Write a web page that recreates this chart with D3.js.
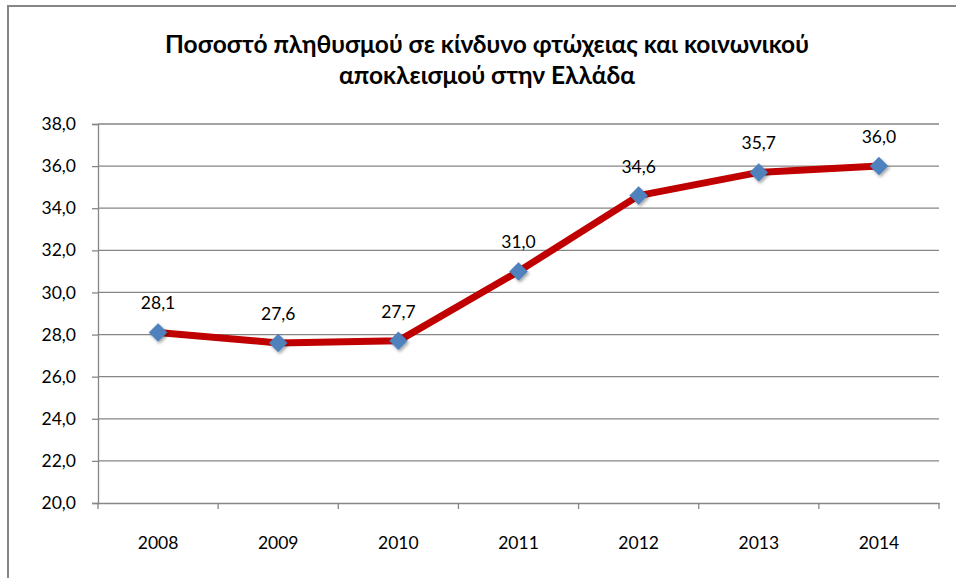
<!DOCTYPE html>
<html><head><meta charset="utf-8">
<script src="https://cdn.jsdelivr.net/npm/d3@7"></script>
<style>body{margin:0;background:#fff;}svg{display:block;}</style>
</head><body>
<script>
const years = ["2008","2009","2010","2011","2012","2013","2014"];
const values = [28.1, 27.6, 27.7, 31.0, 34.6, 35.7, 36.0];
const yTicks = [20,22,24,26,28,30,32,34,36,38];
const titleLines = ["Ποσοστό πληθυσμού σε κίνδυνο φτώχειας και κοινωνικού","αποκλεισμού στην Ελλάδα"];

const W=956,H=578;
const m={left:98,right:17,top:124,bottom:75};
const svg=d3.select("body").append("svg").attr("width",W).attr("height",H);
const font="Lato, 'Open Sans', sans-serif";

svg.append("rect").attr("x",8).attr("y",6).attr("width",960).attr("height",590)
  .attr("fill","#fff").attr("stroke","#868686").attr("stroke-width",2);

const x=d3.scaleBand().domain(years).range([m.left,W-m.right]);
const y=d3.scaleLinear().domain([20,38]).range([H-m.bottom,m.top]);

svg.append("g").selectAll("line").data(yTicks.filter(d=>d>20)).join("line")
  .attr("x1",m.left).attr("x2",W-m.right).attr("y1",d=>y(d)).attr("y2",d=>y(d))
  .attr("stroke","#868686").attr("stroke-width",1.3);

const yAxis=svg.append("g").attr("transform",`translate(${m.left},0)`)
  .call(d3.axisLeft(y).tickValues(yTicks).tickSize(6).tickPadding(16).tickFormat(d=>d3.format(".1f")(d).replace(".",",")));
yAxis.select(".domain").attr("stroke","#868686").attr("stroke-width",1.3);
yAxis.selectAll(".tick line").attr("stroke","#868686").attr("stroke-width",1.3);
yAxis.selectAll("text").attr("font-family",font).attr("font-size",17.5).attr("fill","#000");

const xAxis=svg.append("g").attr("transform",`translate(0,${H-m.bottom})`)
  .call(d3.axisBottom(x).tickSize(0).tickPadding(34));
xAxis.select(".domain").attr("stroke","#868686").attr("stroke-width",1.3);
xAxis.selectAll("text").attr("font-family",font).attr("font-size",17.5).attr("fill","#000");
svg.append("g").selectAll("line").data(years.concat(["end"])).join("line")
  .attr("x1",(d,i)=>i<years.length?x(d):x(years[years.length-1])+x.bandwidth())
  .attr("x2",(d,i)=>i<years.length?x(d):x(years[years.length-1])+x.bandwidth())
  .attr("y1",H-m.bottom).attr("y2",H-m.bottom+6)
  .attr("stroke","#868686").attr("stroke-width",1.3);

const cx=d=>x(d)+x.bandwidth()/2;
const pts=years.map((d,i)=>({year:d,v:values[i]}));
svg.append("path").datum(pts)
  .attr("d",d3.line().x(d=>cx(d.year)).y(d=>y(d.v)))
  .attr("fill","none").attr("stroke","#C00000").attr("stroke-width",7).attr("stroke-linejoin","round");

const defs=svg.append("defs");
const f=defs.append("filter").attr("id","sh").attr("x","-50%").attr("y","-50%").attr("width","200%").attr("height","200%");
f.append("feDropShadow").attr("dx",1.5).attr("dy",2).attr("stdDeviation",1.5).attr("flood-color","#000").attr("flood-opacity",0.35);

svg.append("g").selectAll("path").data(pts).join("path")
  .attr("d","M0,-9L9,0L0,9L-9,0Z")
  .attr("transform",d=>`translate(${cx(d.year)},${y(d.v)})`)
  .attr("fill","#4F81BD").attr("stroke","#4A7EBB").attr("stroke-width",0.5).attr("filter","url(#sh)");

svg.append("g").selectAll("text").data(pts).join("text")
  .attr("x",d=>cx(d.year)).attr("y",d=>y(d.v)-23)
  .attr("text-anchor","middle").attr("font-family",font).attr("font-size",17.5).attr("fill","#000")
  .text(d=>d3.format(".1f")(d.v).replace(".",","));

svg.append("g").selectAll("text").data(titleLines).join("text")
  .attr("x",487).attr("y",(d,i)=>53+i*31).attr("text-anchor","middle")
  .attr("font-family",font).attr("font-weight","bold").attr("font-size",24.5).attr("fill","#000")
  .text(d=>d);
</script>
</body></html>
